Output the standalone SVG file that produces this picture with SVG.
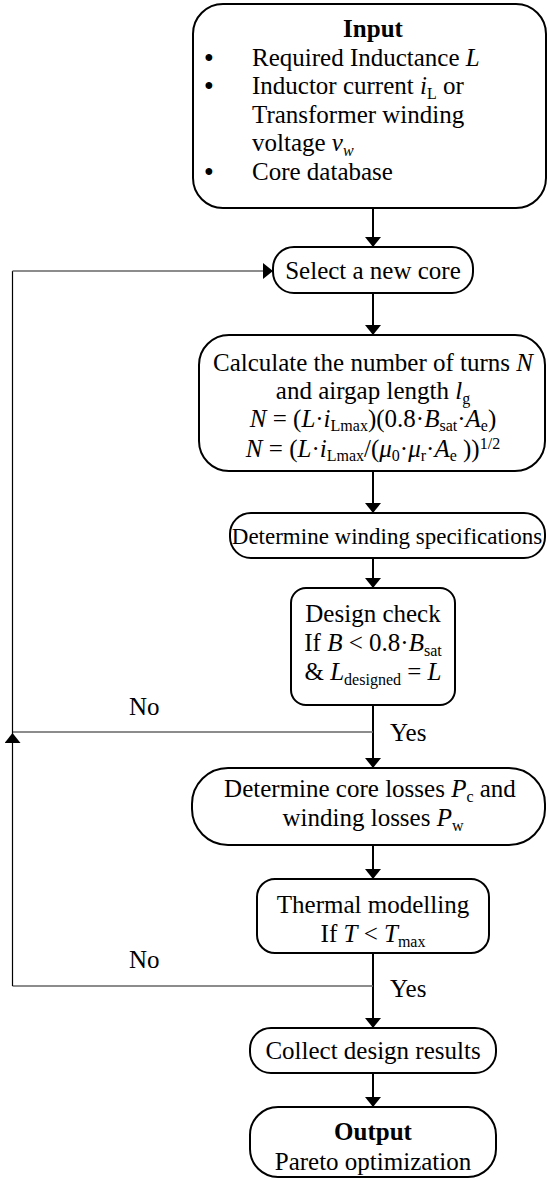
<svg xmlns="http://www.w3.org/2000/svg" width="548" height="1179" viewBox="0 0 548 1179">
<defs>
<marker id="ah" viewBox="0 0 10 16" refX="10" refY="8" markerWidth="10" markerHeight="16" markerUnits="userSpaceOnUse" orient="auto">
<path d="M0,0 L10,8 L0,16 Z" fill="#000"/>
</marker>
<style>
.box{fill:#fff;stroke:#000;stroke-width:2}
.t{font-family:"Liberation Serif","Times New Roman",serif;font-size:25px;fill:#000}
.m{text-anchor:middle}
.b{font-weight:bold}
.i{font-style:italic}
.s{font-size:16px}
.c{stroke:#000;stroke-width:2;fill:none}
.f{stroke:#666;stroke-width:1.5;fill:none}
.l{stroke:#000;stroke-width:1.2;fill:none}
</style>
</defs>
<rect width="548" height="1179" fill="#fff"/>
<g id="connectors">
<line class="c" x1="373" y1="208" x2="373" y2="247" marker-end="url(#ah)"/>
<line class="c" x1="373" y1="293" x2="373" y2="335" marker-end="url(#ah)"/>
<line class="c" x1="373" y1="471" x2="373" y2="513" marker-end="url(#ah)"/>
<line class="c" x1="373" y1="558" x2="373" y2="588" marker-end="url(#ah)"/>
<line class="c" x1="373" y1="705" x2="373" y2="768" marker-end="url(#ah)"/>
<line class="c" x1="373" y1="845" x2="373" y2="879" marker-end="url(#ah)"/>
<line class="c" x1="373" y1="953" x2="373" y2="1028" marker-end="url(#ah)"/>
<line class="c" x1="373" y1="1073" x2="373" y2="1107" marker-end="url(#ah)"/>
<line class="f" x1="373" y1="732" x2="12.5" y2="732"/>
<line class="f" x1="373" y1="986" x2="12.5" y2="986"/>
<line class="l" x1="12.5" y1="986" x2="12.5" y2="733" marker-end="url(#ah)"/>
<line class="l" x1="12.5" y1="733" x2="12.5" y2="271"/>
<line class="f" x1="12.5" y1="271" x2="273" y2="271" marker-end="url(#ah)"/>
<text class="t" x="129" y="715">No</text>
<text class="t" x="390" y="741">Yes</text>
<text class="t" x="129" y="968">No</text>
<text class="t" x="390" y="997">Yes</text>
</g>
<g id="input">
<rect class="box" x="193" y="4" width="353" height="204" rx="30"/>
<text class="t m b" x="373" y="37">Input</text>
<text class="t m b" x="209" y="66">•</text>
<text class="t m b" x="209" y="94">•</text>
<text class="t m b" x="209" y="180">•</text>
<text class="t" x="252" y="66">Required Inductance <tspan class="i">L</tspan></text>
<text class="t" x="252" y="94">Inductor current <tspan class="i">i</tspan><tspan class="s" dy="5">L</tspan><tspan dy="-5"> or</tspan></text>
<text class="t" x="252" y="123">Transformer winding</text>
<text class="t" x="252" y="151">voltage <tspan class="i">v</tspan><tspan class="s i" dy="5">w</tspan></text>
<text class="t" x="252" y="180">Core database</text>
</g>
<g id="select">
<rect class="box" x="273" y="247" width="200" height="46" rx="21"/>
<text class="t m" x="373" y="279">Select a new core</text>
</g>
<g id="calculate">
<rect class="box" x="199" y="335" width="346" height="136" rx="30"/>
<text class="t m" x="373" y="371">Calculate the number of turns <tspan class="i">N</tspan></text>
<text class="t m" x="373" y="399">and airgap length <tspan class="i">l</tspan><tspan class="s" dy="5">g</tspan></text>
<text class="t m" x="373" y="427"><tspan class="i">N</tspan> = (<tspan class="i">L</tspan>·<tspan class="i">i</tspan><tspan class="s" dy="4">Lmax</tspan><tspan dy="-4">)(0.8·</tspan><tspan class="i">B</tspan><tspan class="s" dy="4">sat</tspan><tspan dy="-4">·</tspan><tspan class="i">A</tspan><tspan class="s" dy="4">e</tspan><tspan dy="-4">)</tspan></text>
<text class="t m" x="373" y="457"><tspan class="i">N</tspan> = (<tspan class="i">L</tspan>·<tspan class="i">i</tspan><tspan class="s" dy="4">Lmax</tspan><tspan dy="-4">/(</tspan><tspan class="i">μ</tspan><tspan class="s" dy="4">0</tspan><tspan dy="-4">·</tspan><tspan class="i">μ</tspan><tspan class="s" dy="4">r</tspan><tspan dy="-4">·</tspan><tspan class="i">A</tspan><tspan class="s" dy="4">e</tspan><tspan dy="-4"> ))</tspan><tspan class="s" dy="-8">1/2</tspan></text>
</g>
<g id="winding">
<rect class="box" x="230" y="513" width="315" height="45" rx="21"/>
<text class="t m" x="387" y="544" style="font-size:23px">Determine winding specifications</text>
</g>
<g id="design-check">
<rect class="box" x="291" y="588" width="164" height="117" rx="15"/>
<text class="t m" x="373" y="622">Design check</text>
<text class="t m" x="373" y="651">If <tspan class="i">B</tspan> &lt; 0.8·<tspan class="i">B</tspan><tspan class="s" dy="5">sat</tspan></text>
<text class="t m" x="373" y="680">&amp; <tspan class="i">L</tspan><tspan class="s" dy="5">designed</tspan><tspan dy="-5"> = </tspan><tspan class="i">L</tspan></text>
</g>
<g id="losses">
<rect class="box" x="192" y="768" width="353" height="77" rx="36"/>
<text class="t m" x="370" y="797">Determine core losses <tspan class="i">P</tspan><tspan class="s" dy="5">c</tspan><tspan dy="-5"> and</tspan></text>
<text class="t m" x="373" y="826">winding losses <tspan class="i">P</tspan><tspan class="s" dy="5">w</tspan></text>
</g>
<g id="thermal">
<rect class="box" x="257" y="879" width="232" height="74" rx="18"/>
<text class="t m" x="373" y="913">Thermal modelling</text>
<text class="t m" x="373" y="942">If <tspan class="i">T</tspan> &lt; <tspan class="i">T</tspan><tspan class="s" dy="5">max</tspan></text>
</g>
<g id="collect">
<rect class="box" x="250" y="1028" width="246" height="45" rx="21"/>
<text class="t m" x="373" y="1059">Collect design results</text>
</g>
<g id="output">
<rect class="box" x="250" y="1107" width="246" height="70" rx="28"/>
<text class="t m b" x="373" y="1140">Output</text>
<text class="t m" x="373" y="1170">Pareto optimization</text>
</g>
</svg>
